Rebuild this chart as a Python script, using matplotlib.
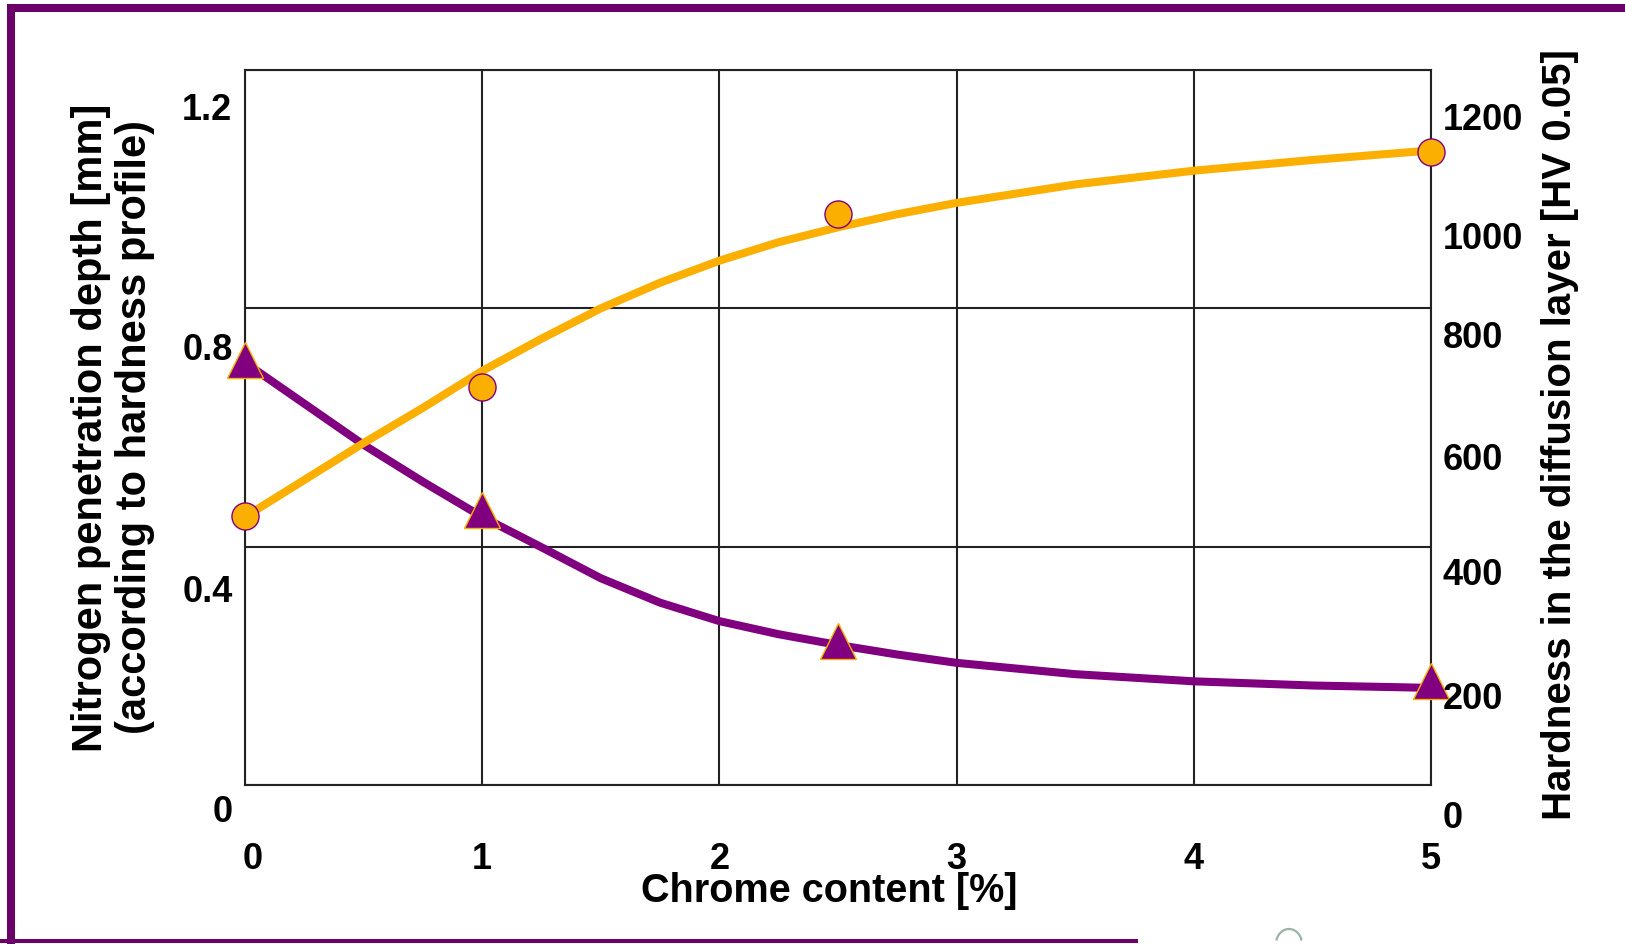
import matplotlib
matplotlib.use("Agg")
import matplotlib.pyplot as plt
from matplotlib.patches import Rectangle, Arc
from matplotlib.transforms import ScaledTranslation

# ---------------- data ----------------
chrome_measured = [0, 1, 2.5, 5]
depth_measured = [0.714, 0.462, 0.2425, 0.175]          # mm  (left axis)
hardness_measured = [452, 668, 958, 1063]               # HV 0.05 (right axis)

curve_chrome = [0, 0.25, 0.5, 0.75, 1, 1.25, 1.5, 1.75, 2, 2.25, 2.5, 2.75, 3, 3.5, 4, 4.5, 5]
depth_curve = [0.709, 0.640, 0.571, 0.509, 0.450, 0.399, 0.347, 0.306, 0.275,
               0.253, 0.235, 0.219, 0.205, 0.186, 0.174, 0.167, 0.163]
hardness_curve = [450, 512, 574, 633, 695, 749, 800, 843, 880,
                  911, 936, 958, 977, 1008, 1031, 1049, 1065]

x_ticks = [0, 1, 2, 3, 4, 5]
x_tick_labels = ["0", "1", "2", "3", "4", "5"]
depth_ticks = [0, 0.4, 0.8, 1.2]
depth_tick_labels = ["0", "0.4", "0.8", "1.2"]
hardness_ticks = [0, 200, 400, 600, 800, 1000, 1200]
hardness_tick_labels = ["0", "200", "400", "600", "800", "1000", "1200"]

# ---------------- style ----------------
plt.rcParams["font.family"] = ["Liberation Sans", "DejaVu Sans"]
plt.rcParams["font.weight"] = "bold"

W, H, DPI = 1625, 944, 100
PURPLE = "#800080"
ORANGE = "#FBAF00"
FRAME = "#6A0068"
GRIDC = "#222222"

fig = plt.figure(figsize=(W / DPI, H / DPI), dpi=DPI)


def px_rect(x0, y0, x1, y1, color):
    return Rectangle((x0 / W, 1 - y1 / H), (x1 - x0) / W, (y1 - y0) / H,
                     transform=fig.transFigure, facecolor=color, edgecolor="none")


# outer purple frame (top, left, partial bottom)
fig.add_artist(px_rect(7, 4, W, 12, FRAME))
fig.add_artist(px_rect(7, 4, 15, H, FRAME))
fig.add_artist(px_rect(0, 939, 1138, 943, FRAME))
# faint partial logo arc at the bottom edge
fig.add_artist(Arc((1289 / W, 1 - 944 / H), 26 / W, 30 / H, theta1=25, theta2=155,
                   transform=fig.transFigure, color="#9db3a6", lw=1.6))

ax = fig.add_axes([245 / W, 1 - 785 / H, 1186 / W, 715 / H])
ax2 = ax.twinx()

# ---------------- left axis: penetration depth ----------------
ax.plot(curve_chrome, depth_curve, color=PURPLE, lw=5.8, solid_capstyle="butt",
        solid_joinstyle="round", zorder=3)
ax.plot(chrome_measured, depth_measured, linestyle="none", marker="^", ms=26,
        markerfacecolor=PURPLE, markeredgecolor=ORANGE, markeredgewidth=1.0,
        clip_on=False, zorder=4)
ax.set_xlim(0, 5)
ax.set_ylim(0, 1.2)
ax.set_xticks(x_ticks, x_tick_labels)
ax.set_yticks(depth_ticks, depth_tick_labels)
ax.grid(True, color=GRIDC, lw=1.5)
ax.set_axisbelow(True)
for s in ax.spines.values():
    s.set_color(GRIDC)
    s.set_linewidth(1.5)
ax.tick_params(axis="both", length=0, labelsize=26, colors="black")
ax.tick_params(axis="x", pad=53.5)
ax.tick_params(axis="y", pad=9.0)

# ---------------- right axis: hardness ----------------
ax2.plot(curve_chrome, hardness_curve, color=ORANGE, lw=5.8, solid_capstyle="butt",
         solid_joinstyle="round", zorder=3)
ax2.plot(chrome_measured, hardness_measured, linestyle="none", marker="o", ms=19.5,
         markerfacecolor=ORANGE, markeredgecolor=PURPLE, markeredgewidth=1.0,
         clip_on=False, zorder=4)
ax2.set_ylim(0, 1200)
ax2.set_yticks(hardness_ticks, hardness_tick_labels)
for s in ax2.spines.values():
    s.set_visible(False)
ax2.tick_params(axis="y", length=0, labelsize=26, pad=8.6, colors="black")

# ---------------- tick label placement (offset as in reference) ----------------
def shift(label, dx_px, dy_px):
    label.set_transform(label.get_transform() +
                        ScaledTranslation(dx_px / DPI, -dy_px / DPI, fig.dpi_scale_trans))


for tick in ax.xaxis.get_major_ticks():
    tick.label1.set_va("center")
shift(ax.xaxis.get_major_ticks()[0].label1, 8, 0)

left_offsets = [28, 46, 42, 40]
for tick, dy in zip(ax.yaxis.get_major_ticks(), left_offsets):
    tick.label1.set_va("center")
    shift(tick.label1, 0, dy)

right_offsets = [34, 34, 29, 33, 30, 50, 50]
for tick, dy in zip(ax2.yaxis.get_major_ticks(), right_offsets):
    tick.label2.set_va("center")
    shift(tick.label2, 0, dy)

# ---------------- axis labels ----------------
ax.set_xlabel("Chrome content [%]", fontsize=28.5, fontweight="bold", va="center")
ax.xaxis.set_label_coords(0.4924, -0.148)

ax.set_ylabel("Nitrogen penetration depth [mm]\n(according to hardness profile)",
              fontsize=30, fontweight="bold", va="center", ha="center", linespacing=1.15)
ax.yaxis.set_label_coords(-0.1113, 0.5)

ax2.set_ylabel("Hardness in the diffusion layer [HV 0.05]", fontsize=29,
               fontweight="bold", va="center", ha="center", rotation=90)
ax2.yaxis.set_label_coords(1.1088, 0.4895)

fig.savefig("out.png", dpi=DPI)
